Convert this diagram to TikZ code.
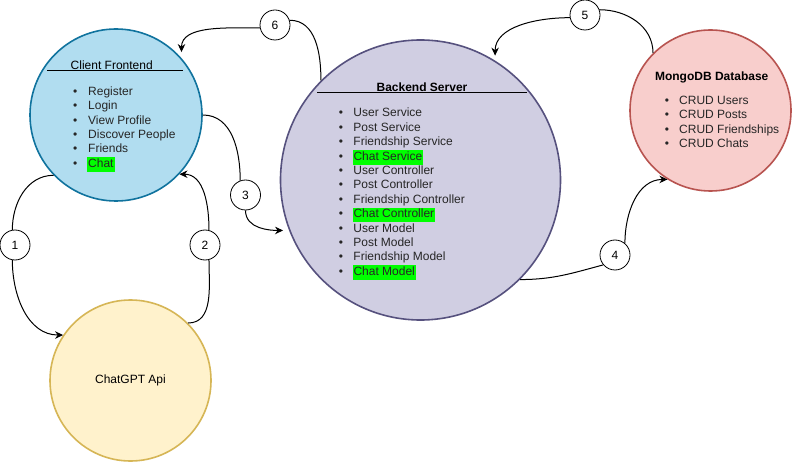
\documentclass[tikz,border=0pt]{standalone}
\usepackage{fontspec}
\setmainfont{Liberation Sans}
\usetikzlibrary{positioning}
\usetikzlibrary{calc}
\usetikzlibrary{arrows.meta}
\definecolor{cliFill}{HTML}{B1DDF0}
\definecolor{cliLine}{HTML}{10739E}
\definecolor{backFill}{HTML}{D0CEE2}
\definecolor{backLine}{HTML}{56517E}
\definecolor{dbFill}{HTML}{F8CECC}
\definecolor{dbLine}{HTML}{B85450}
\definecolor{gptFill}{HTML}{FFF2CC}
\definecolor{gptLine}{HTML}{D6B656}
\definecolor{hlGreen}{HTML}{00FF00}
\tikzset{>={Stealth[length=8pt,width=7.5pt]}}
\tikzset{ed/.style={line width=1pt}}
\tikzset{numv/.style={draw,circle, minimum size=30pt, inner sep=0pt, fill=white, line width=0.8pt}}
\tikzset{bigv/.style={circle, minimum size=#1, inner sep=0pt, line width=1.6pt}}
\tikzset{ttl/.style={anchor=base, inner sep=0pt}}
\tikzset{lst/.style={anchor=base west, inner sep=0pt, text=black!85}}
\newcommand{\bul}{\makebox[0pt]{\textbullet}&}
\newcommand{\hlt}[1]{{\setlength{\fboxsep}{0pt}\kern-1pt\colorbox{hlGreen}{\kern1pt\strut #1\kern1pt}}}

\begin{document}
\begin{tikzpicture}[x=1pt,y=-1pt,font=\fontsize{12}{14.4}\selectfont]
\useasboundingbox[fill=white] (0,0) rectangle (792,462);

\node[bigv=172pt, draw=cliLine, fill=cliFill] (client) at (116,115) {};
\node[bigv=280pt, draw=backLine, fill=backFill] (back) at (420.5,180) {};
\node[bigv=161pt, draw=dbLine, fill=dbFill] (db) at (710.5,110.5) {};
\node[bigv=161pt, draw=gptLine, fill=gptFill] (gpt) at (130.5,380.5) {ChatGPT Api};

% client frontend
\node[ttl] (clientT) at ($(client)+(-4.3,-45.5)$) {Client Frontend};
\draw[line width=1pt] ($(clientT.base)+(-64.7,1.5)$) -- ($(clientT.base)+(71.3,1.5)$);
\node[lst] (clientL) at ($(client)+(-41,-19.7)$) {\begin{tabular}[t]{@{}l@{\hspace{13pt}}l@{}}
\bul Register\\
\bul Login\\
\bul View Profile\\
\bul Discover People\\
\bul Friends\\
\bul \hlt{Chat}
\end{tabular}};

% backend server
\node[ttl] (backT) at ($(back)+(1.5,-88.5)$) {\textbf{Backend Server}};
\draw[line width=1pt] ($(backT.base)+(-105,1.3)$) -- ($(backT.base)+(105,1.3)$);
\node[lst] (backL) at ($(back)+(-79.8,-63)$) {\begin{tabular}[t]{@{}l@{\hspace{12.6pt}}l@{}}
\bul User Service\\
\bul Post Service\\
\bul Friendship Service\\
\bul \hlt{Chat Service}\\
\bul User Controller\\
\bul Post Controller\\
\bul Friendship Controller\\
\bul \hlt{Chat Controller}\\
\bul User Model\\
\bul Post Model\\
\bul Friendship Model\\
\bul \hlt{Chat Model}
\end{tabular}};

% database
\node[ttl] (dbT) at ($(db)+(1.2,-30.2)$) {\textbf{MongoDB Database}};
\node[lst] (dbL) at ($(db)+(-43.8,-6.2)$) {\begin{tabular}[t]{@{}l@{\hspace{12.3pt}}l@{}}
\bul CRUD Users\\
\bul CRUD Posts\\
\bul CRUD Friendships\\
\bul CRUD Chats
\end{tabular}};

% step numbers
\node[numv] (n1) at (15,245) {1};
\node[numv] (n2) at (205,245) {2};
\node[numv] (n3) at (245.5,195) {3};
\node[numv] (n4) at (615,255) {4};
\node[numv] (n5) at (585,15) {5};
\node[numv] (n6) at (275,25) {6};

\draw[ed] (client.224) to[out=180,in=90] (n1.100);
\draw[ed,->] (n1.-100) to[out=-90,in=180] (gpt.146);

\draw[ed] (gpt.45) to[out=0,in=-90] (n2.-75);
\draw[ed,->] (n2.75) to[out=90,in=0] (client.317);

\draw[ed] (client.east) to[out=0,in=90] (n3.110);
\draw[ed,->,shorten >=6pt] (n3.south) to[out=-90,in=180] (back.201);

\draw[ed] (back.-45) to[out=0,in=195] (n4.220);
\draw[ed,->] (n4.50) to[out=90,in=180] (db.238);

\draw[ed] (db.135) to[out=90,in=0] (n5.20);
\draw[ed,->,shorten >=5pt] (n5.190) to[out=180,in=90] (back.58);

\draw[ed] (back.135) to[out=90,in=0] (n6.18);
\draw[ed,->,shorten >=6pt] (n6.191) to[out=180,in=90] (client.41);

\end{tikzpicture}
\end{document}
